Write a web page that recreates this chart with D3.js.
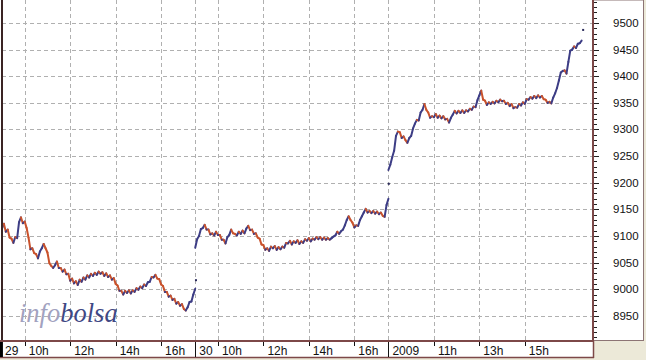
<!DOCTYPE html>
<html><head><meta charset="utf-8">
<script src="https://cdn.jsdelivr.net/npm/d3@7"></script>
<style>html,body{margin:0;padding:0;background:#ece9d8;}svg{display:block;}</style>
</head><body>
<script>
// ---- data ----
const sessions = ["29", "30", "2009"];
const sessionLengthMin = 510;   // 9:00 - 17:30
const stepMin = 5;
const day29Values = [9114,9123,9108,9112,9097,9095,9087,9098,9096,9126,9135,9124,9127,9115,9097,9075,9077,9068,9066,9058,
9071,9077,9085,9077,9069,9049,9044,9040,9045,9052,9040,9040,9033,9037,9028,9029,9016,9020,9011,9015,
9008,9018,9014,9022,9018,9026,9022,9029,9025,9031,9027,9033,9029,9032,9025,9030,9023,9026,9018,9021,
9010,9007,8997,8997,8990,8997,8993,8998,8992,8998,8995,9002,8999,9005,9002,9009,9006,9013,9014,9023,
9022,9027,9020,9019,9009,9006,8995,8995,8986,8988,8980,8982,8973,8976,8969,8972,8963,8960,8966,8976,
8977,8990,9001];
const day30Values = [9078,9094,9100,9113,9115,9121,9112,9112,9103,9105,9101,9108,9102,9102,9093,9093,9086,9098,9102,9112,
9105,9104,9101,9108,9104,9110,9105,9114,9119,9111,9112,9104,9105,9097,9095,9084,9083,9074,9077,9072,
9080,9077,9081,9074,9079,9075,9080,9078,9087,9086,9091,9084,9090,9087,9092,9085,9090,9087,9094,9091,
9096,9090,9095,9093,9098,9094,9098,9093,9097,9093,9096,9093,9096,9099,9101,9108,9104,9109,9112,9120,
9130,9137,9130,9125,9116,9120,9119,9130,9137,9144,9151,9144,9147,9143,9147,9142,9146,9141,9144,9138,
9136,9158,9170];
const day2009Values = [9224,9234,9248,9260,9288,9296,9295,9284,9287,9280,9275,9284,9288,9302,9311,9318,9317,9332,9337,9348,
9337,9332,9322,9325,9323,9329,9322,9326,9321,9325,9319,9320,9313,9322,9328,9335,9330,9335,9331,9336,
9331,9336,9334,9339,9337,9343,9342,9355,9364,9373,9356,9354,9346,9351,9348,9352,9349,9354,9351,9356,
9353,9354,9348,9350,9344,9348,9340,9342,9341,9348,9345,9351,9348,9357,9356,9361,9358,9363,9359,9364,
9360,9363,9357,9356,9350,9352,9349,9360,9368,9378,9392,9407,9410,9411,9405,9427,9448,9450,9456,9453,
9461,9462,9467];
const seriesValues = [day29Values, day30Values, day2009Values];
// isolated prints (minute index over the 3 sessions, value)
const dotMinutes = [512, 1021, 1534];
const dotValues = [9017, 9198, 9487];
const xTickLabels = ["29","10h","12h","14h","16h","30","10h","12h","14h","16h","2009","11h","13h","15h"];
const xTickMinutes = [0,60,180,300,420,510,570,690,810,930,1020,1140,1260,1380];
const xTickIsDay = [true,false,false,false,false,true,false,false,false,false,true,false,false,false];
const yTicks = [8950,9000,9050,9100,9150,9200,9250,9300,9350,9400,9450,9500];

// ---- layout ----
const W = 646, H = 360;
const plotL = 2, plotR = 593, plotT = 0, plotB = 341;
const svg = d3.select("body").append("svg").attr("width", W).attr("height", H);
svg.append("rect").attr("width", W).attr("height", H).attr("fill", "#ece9d8");

const x = d3.scaleLinear().domain([0, 1560]).range([plotL, plotR]);
const y = d3.scaleLinear().domain([8902.8, 9543.2]).range([plotB, plotT]);

// plot background
svg.append("rect").attr("x", 0).attr("y", 0).attr("width", plotR).attr("height", plotB).attr("fill", "#fff");
// y label panel
svg.append("rect").attr("x", plotR).attr("y", 0).attr("width", 643.5 - plotR).attr("height", 340.5)
  .attr("fill", "#fff").attr("stroke", "#8c7474").attr("stroke-width", 1);

// grid
const grid = svg.append("g").attr("stroke", "#b0b0b0").attr("stroke-dasharray", "4,3").attr("stroke-width", 1);
grid.selectAll("line.h").data(yTicks).join("line")
  .attr("x1", plotL).attr("x2", plotR)
  .attr("y1", d => Math.round(y(d)) + 0.5).attr("y2", d => Math.round(y(d)) + 0.5);
grid.selectAll("line.v").data(xTickMinutes.filter(m => m > 0)).join("line")
  .attr("y1", plotT).attr("y2", plotB)
  .attr("x1", d => Math.round(x(d)) + 0.5).attr("x2", d => Math.round(x(d)) + 0.5);

// watermark
const wm = svg.append("text").attr("x", 19).attr("y", 322)
  .attr("font-family", "'Liberation Serif', 'Times New Roman', serif")
  .attr("font-style", "italic").attr("font-size", 26.5);
wm.append("tspan").attr("fill", "#a2a2bf").text("info");
wm.append("tspan").attr("fill", "#3f4884").text("bolsa");

// price segments
const segs = [];
seriesValues.forEach((vals, d) => {
  for (let i = 1; i < vals.length; i++) {
    segs.push({ t0: d * sessionLengthMin + (i - 1) * stepMin, v0: vals[i - 1],
                t1: d * sessionLengthMin + i * stepMin, v1: vals[i] });
  }
});
svg.append("g").selectAll("line").data(segs).join("line")
  .attr("x1", s => x(s.t0)).attr("y1", s => y(s.v0))
  .attr("x2", s => x(s.t1)).attr("y2", s => y(s.v1))
  .attr("stroke", s => s.v1 >= s.v0 ? "#3d3d85" : "#c9522c")
  .attr("stroke-width", 2).attr("stroke-linecap", "round");

svg.append("g").selectAll("rect").data(dotMinutes).join("rect")
  .attr("x", (m) => x(m) - 1).attr("y", (m, i) => y(dotValues[i]) - 1)
  .attr("width", 2).attr("height", 2).attr("fill", "#2a2a5a");

// left border
svg.append("line").attr("x1", 2).attr("x2", 2).attr("y1", 0).attr("y2", plotB)
  .attr("stroke", "#3a2424").attr("stroke-width", 2);

// y axis
const yAxisG = svg.append("g");
yAxisG.append("line").attr("x1", plotR).attr("x2", plotR).attr("y1", 0).attr("y2", plotB)
  .attr("stroke", "#7d4848").attr("stroke-width", 2);
const minorTicks = d3.range(8910, 9541, 10);
yAxisG.selectAll("line.t").data(minorTicks).join("line")
  .attr("x1", plotR + 1).attr("x2", d => plotR + (d % 50 === 0 ? 6 : 4))
  .attr("y1", d => Math.round(y(d)) + 0.5).attr("y2", d => Math.round(y(d)) + 0.5)
  .attr("stroke", "#222").attr("stroke-width", 1);
yAxisG.selectAll("text").data(yTicks).join("text")
  .attr("x", 613).attr("y", d => y(d) + 4)
  .attr("font-family", "'Liberation Sans', Arial, sans-serif").attr("font-size", 11.5)
  .attr("fill", "#111").text(d => d);

// x axis band
const xb = svg.append("g");
xb.append("rect").attr("x", 0).attr("y", 341).attr("width", plotR).attr("height", 16).attr("fill", "#fff");
xb.append("line").attr("x1", 0).attr("x2", plotR + 1).attr("y1", 341).attr("y2", 341)
  .attr("stroke", "#7d4848").attr("stroke-width", 2);
xb.append("line").attr("x1", 0).attr("x2", plotR + 1).attr("y1", 357.5).attr("y2", 357.5)
  .attr("stroke", "#7d4848").attr("stroke-width", 1.5);
xb.append("line").attr("x1", plotR + 0.5).attr("x2", plotR + 0.5).attr("y1", 341).attr("y2", 358)
  .attr("stroke", "#7d4848").attr("stroke-width", 1.5);
xb.append("rect").attr("x", 0).attr("y", 342).attr("width", 3).attr("height", 15).attr("fill", "#000");
xb.selectAll("line.tk").data(xTickMinutes).join("line")
  .attr("x1", d => Math.round(x(d)) + 0.5).attr("x2", d => Math.round(x(d)) + 0.5)
  .attr("y1", 342).attr("y2", (d, i) => xTickIsDay[i] ? 357 : 346)
  .attr("stroke", "#111").attr("stroke-width", 1);
xb.selectAll("text").data(xTickLabels).join("text")
  .attr("x", (d, i) => x(xTickMinutes[i]) + (i === 0 ? 3 : 4)).attr("y", 355)
  .attr("font-family", "'Liberation Sans', Arial, sans-serif").attr("font-size", 12)
  .attr("fill", "#111").text(d => d);
</script>
</body></html>
